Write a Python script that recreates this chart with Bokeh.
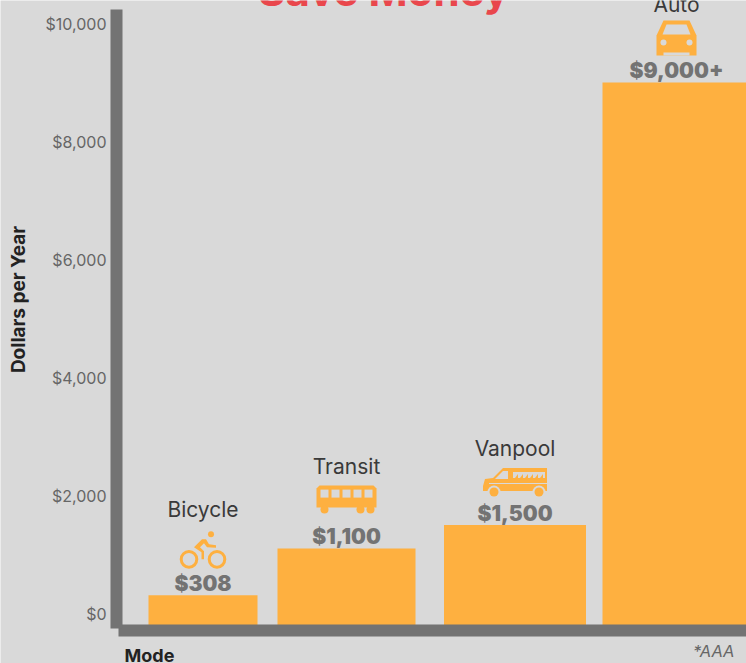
from bokeh.core.properties import value as fixed
from bokeh.embed import file_html
from bokeh.models import FixedTicker
from bokeh.plotting import figure
from bokeh.resources import INLINE

# Annual commuting cost by mode
modes = ["Bicycle", "Transit", "Vanpool", "Auto"]
costs = [308, 1100, 1500, 9000]
cost_labels = ["$308", "$1,100", "$1,500", "$9,000+"]
tick_values = [0, 2000, 4000, 6000, 8000, 10000]
tick_labels = ["$0", "$2,000", "$4,000", "$6,000", "$8,000", "$10,000"]

# Layout, in page pixels
bar_lefts = [148, 277, 443.5, 602]
bar_rights = [257, 415, 585.5, 746]
text_centers = [202.5, 346, 514.5, 676]
name_gaps = [86, 82, 77, 78]
icon_gaps = [44, 49, 43, 44]
value_gap = 12
ZERO_ROW = 613
PX_PER_DOLLAR = 0.059
AXIS_COLUMN = 116
AXIS_ROW = 630
AXIS_TOP_ROW = 9
PAGE_WIDTH = 746
PAGE_HEIGHT = 663

BACKGROUND = "#d9d9d9"
ORANGE = "#feb040"
AXIS_GREY = "#737373"
TEXT_DARK = "#3a3a3a"
FONT = "Inter"
HEAVY_FONT = "'Inter Black', Inter"


def dollars_at(row):
    return (ZERO_ROW - row) / PX_PER_DOLLAR


p = figure(
    width=PAGE_WIDTH, height=PAGE_HEIGHT, output_backend="svg", toolbar_location=None,
    x_range=(0, PAGE_WIDTH), y_range=(dollars_at(PAGE_HEIGHT), dollars_at(0)),
    min_border=0, background_fill_color=BACKGROUND, border_fill_color=BACKGROUND,
    outline_line_color=None,
)
p.grid.visible = False

for ax in (p.xaxis[0], p.yaxis[0]):
    ax.axis_line_color = AXIS_GREY
    ax.axis_line_width = 12
    ax.major_tick_line_color = None
    ax.minor_tick_line_color = None

# Both axes sit inside the frame so that notes can be placed around them
p.xaxis[0].fixed_location = dollars_at(AXIS_ROW)
p.xaxis[0].bounds = (118, PAGE_WIDTH)
p.xaxis[0].ticker = FixedTicker(ticks=[])
p.yaxis[0].fixed_location = AXIS_COLUMN
p.yaxis[0].bounds = (dollars_at(628), dollars_at(AXIS_TOP_ROW))
p.yaxis[0].ticker = FixedTicker(ticks=tick_values)
p.yaxis[0].major_label_overrides = dict(zip(tick_values, tick_labels))
p.yaxis[0].major_label_text_font = FONT
p.yaxis[0].major_label_text_font_size = "16px"
p.yaxis[0].major_label_text_color = "#666666"
p.yaxis[0].major_label_standoff = 4

# Bars start below the zero line and disappear behind the horizontal axis
p.quad(left=bar_lefts, right=bar_rights, top=costs, bottom=dollars_at(AXIS_ROW),
       fill_color=ORANGE, line_color=None)


def poly(points, cx, top, color):
    p.patch([cx + x for x, _ in points],
            [top - y / PX_PER_DOLLAR for _, y in points],
            fill_color=color, line_color=None)


def disc(x, y, r, cx, top, fill, line=None, width=0):
    p.circle([cx + x], [top - y / PX_PER_DOLLAR], radius=r, fill_color=fill,
             line_color=line, line_width=width)


def rect(x0, y0, x1, y1, cx, top, color):
    poly([(x0, y0), (x1, y0), (x1, y1), (x0, y1)], cx, top, color)


def bicycle(cx, top):
    disc(-14, 8, 7.8, cx, top, None, ORANGE, 3)
    disc(14, 8, 7.8, cx, top, None, ORANGE, 3)
    disc(8, -17, 3, cx, top, ORANGE)
    poly([(-9, -4), (-1, -12), (3, -12), (6, -7), (13, -6), (13, -3.5), (4, -4),
          (1, -8), (-3, -4), (1, 0), (1, 8), (-1.5, 8), (-1.5, 1)], cx, top, ORANGE)


def bus(cx, top):
    poly([(-27, -14), (27, -14), (30, -11), (30, 8), (-30, 8), (-30, -11)], cx, top, ORANGE)
    for left in (-26, -15, -4, 7, 18):
        rect(left, -10, left + 8, -2, cx, top, BACKGROUND)
    for wx in (-22, 14, 24):
        disc(wx, 10, 4, cx, top, ORANGE)


def van(cx, top):
    poly([(-32, 4), (-30, -3), (-22, -4), (-12, -14), (32, -14), (32, 9), (-32, 9)],
         cx, top, ORANGE)
    poly([(-20, -3), (-12, -11), (-7, -11), (-7, -3)], cx, top, BACKGROUND)
    rect(-2, -10, 30, -4, cx, top, BACKGROUND)
    for left in range(0, 28, 5):
        poly([(left, -4), (left + 3, -4), (left + 3, -8)], cx, top, ORANGE)
    rect(-26, 1, 32, 2, cx, top, BACKGROUND)
    for wx in (-21, 24):
        disc(wx, 10, 6.5, cx, top, BACKGROUND)
        disc(wx, 10, 4.5, cx, top, ORANGE)


def car(cx, top):
    poly([(-13, -18), (13, -18), (20, -3), (20, 17), (-20, 17), (-20, -3)], cx, top, ORANGE)
    poly([(-10, -14), (10, -14), (14, -4), (-14, -4)], cx, top, BACKGROUND)
    disc(-13, 4, 3, cx, top, BACKGROUND)
    disc(13, 4, 3, cx, top, BACKGROUND)
    rect(-13, 14, 13, 17, cx, top, BACKGROUND)


icons = [bicycle, bus, van, car]

for i in range(len(modes)):
    cx = text_centers[i]
    top = costs[i]
    p.text([cx], [top], text=[cost_labels[i]], text_font=fixed(HEAVY_FONT), text_font_style="bold",
           text_font_size="21px", text_color=AXIS_GREY, text_align="center",
           text_baseline="middle", y_offset=-value_gap)
    p.text([cx], [top], text=[modes[i]], text_font=fixed(FONT), text_font_size="21px",
           text_color=TEXT_DARK, text_align="center", text_baseline="middle",
           y_offset=-name_gaps[i])
    icons[i](cx, top + icon_gaps[i] / PX_PER_DOLLAR)

p.text([383], [dollars_at(-10)], text=["Save Money"], text_font=fixed(FONT), text_font_style="bold",
       text_font_size="42px", text_color="#e9474c", text_align="center", text_baseline="middle")
p.text([18], [dollars_at(299)], text=["Dollars per Year"], text_font=fixed(FONT),
       text_font_style="bold", text_font_size="19px", text_color="#222222", text_align="center",
       text_baseline="middle", angle=90, angle_units="deg")
p.text([124], [dollars_at(655)], text=["Mode"], text_font=fixed(FONT), text_font_style="bold",
       text_font_size="18px", text_color="#222222", text_align="left", text_baseline="middle")
p.text([734], [dollars_at(650)], text=["*AAA"], text_font=fixed(FONT), text_font_style="italic",
       text_font_size="16.5px", text_color="#666666", text_align="right", text_baseline="middle")

open("out.html", "w").write(file_html(p, INLINE))
